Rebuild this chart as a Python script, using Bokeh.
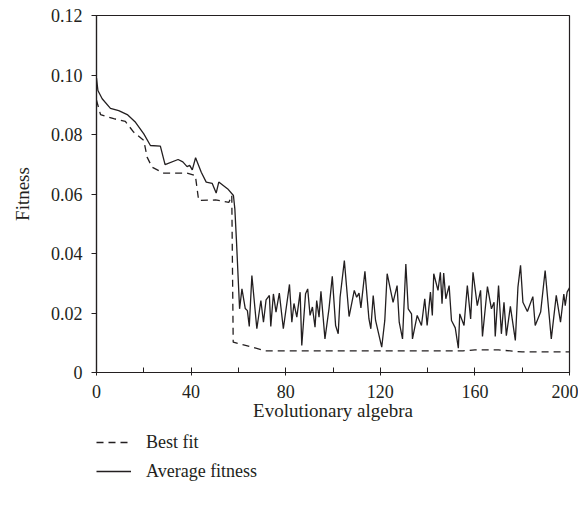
from bokeh.plotting import figure
from bokeh.layouts import column
from bokeh.models import FixedTicker, Range1d, Legend, LegendItem
from bokeh.embed import file_html
from bokeh.resources import INLINE

# Average fitness (solid line)
avg_x = [0, 0.6, 2.4, 5.9, 9.4, 13, 16.5, 20, 22.8, 27, 29, 34.5, 36.5, 38.3, 39.4, 40.5,
         41.9, 44.3, 46.4, 48.9, 50.6, 51.7, 55.5, 57.9, 58.5, 59.2, 60, 60.5,
         61.5, 62.9, 63.8, 64.6, 65.7, 67.8, 69.5, 70.6, 71.7, 73.1, 73.7, 74.8, 75.9,
         77.3, 79, 81.6, 82.6, 83.5, 84.7, 86.1, 86.8, 88.4, 89.3, 90.3, 91.3, 92.4,
         93.1, 94.1, 94.9, 96.6, 98.3, 99.7, 101.1, 102.2, 103, 104.8, 106.8, 109, 110,
         111, 111.8, 113.5, 115.2, 116, 117, 118, 120.6, 121.9, 122.9, 125.4, 127.1,
         128, 129.4, 130.8, 131.8, 133.2, 133.6, 135.6, 137.4, 138.8, 139.8, 141.2, 142,
         142.6, 144.4, 145.4, 146.1, 146.8, 147.7, 149.1, 150.1, 151.7, 153, 153.6,
         155.4, 156.8, 158.2, 159.2, 161, 162.4, 163.2, 165.3, 167, 168.1, 168.6, 170,
         171.2, 172.3, 173.3, 175, 177.1, 178.2, 179.3, 180.3, 182.2, 184.5, 185.5,
         187.8, 189.7, 192.3, 194.4, 196.2, 197.6, 198.2, 199, 200]
avg_y = [0.099, 0.0948, 0.092, 0.0888, 0.088, 0.0867, 0.0841, 0.0802, 0.0763, 0.0761,
         0.0699, 0.0716, 0.0708, 0.0692, 0.0696, 0.0681, 0.0722, 0.0673, 0.064, 0.0636,
         0.0603, 0.064, 0.0617, 0.0595, 0.055, 0.044, 0.030, 0.0214,
         0.0281, 0.0215, 0.0208, 0.0155, 0.0326, 0.0147, 0.0242, 0.0169, 0.0244, 0.0259,
         0.0155, 0.0264, 0.0203, 0.0267, 0.0147, 0.0296, 0.0169, 0.0232, 0.0186, 0.027,
         0.0091, 0.0265, 0.0281, 0.0192, 0.022, 0.0152, 0.0242, 0.0186, 0.0273, 0.0113,
         0.0214, 0.0323, 0.0158, 0.013, 0.0253, 0.0376, 0.0188, 0.0276, 0.0253, 0.0267,
         0.0217, 0.034, 0.018, 0.0147, 0.0259, 0.0175, 0.0085, 0.0175, 0.0332, 0.0236,
         0.0292, 0.0169, 0.0113, 0.0365, 0.0214, 0.0197, 0.0113, 0.0192, 0.0158, 0.0248,
         0.0158, 0.027, 0.0192, 0.0332, 0.0276, 0.0337, 0.0231, 0.0334, 0.0248, 0.0292,
         0.0175, 0.015, 0.0082, 0.0197, 0.0158, 0.0292, 0.018, 0.0337, 0.0225, 0.0276,
         0.0121, 0.0289, 0.0214, 0.0236, 0.0121, 0.0292, 0.013, 0.0236, 0.0124, 0.0222,
         0.0108, 0.0287, 0.036, 0.0236, 0.0205, 0.0255, 0.0158, 0.0203, 0.0343, 0.0113,
         0.0259, 0.0169, 0.0264, 0.0225, 0.027, 0.0285]

# Best fit (dashed line)
best_x = [0, 1.7, 7.3, 12.2, 15.7, 20, 21.4, 23.5, 28.5, 38.3, 41.8, 43.2, 50.3, 56, 57.2,
          57.8, 63, 71.5, 155, 160, 170, 180, 200]
best_y = [0.0915, 0.0867, 0.0853, 0.0844, 0.0808, 0.078, 0.0724, 0.069, 0.067, 0.067,
          0.0662, 0.0578, 0.058, 0.0572, 0.0595, 0.0102, 0.0091, 0.0073, 0.0073, 0.0076,
          0.0076, 0.0069, 0.0069]

series_names = ["Best fit", "Average fitness"]
x_ticks = [0, 40, 80, 120, 160, 200]
x_minor = [20, 60, 100, 140, 180]
y_ticks = [0, 0.02, 0.04, 0.06, 0.08, 0.10, 0.12]
y_labels = ["0", "0.02", "0.04", "0.06", "0.08", "0.10", "0.12"]

FONT = "Liberation Serif"
INK = "#231f20"
DASH = "7 5"
LW = 1.3

p = figure(frame_width=473, frame_height=357, output_backend="svg", toolbar_location=None,
           x_range=Range1d(0, 200), y_range=Range1d(0, 0.12),
           min_border_left=96, min_border_right=9, min_border_top=15, min_border_bottom=53)
p.xgrid.visible = False
p.ygrid.visible = False
p.outline_line_color = INK
p.outline_line_width = 1.2

p.line(best_x, best_y, line_color=INK, line_width=LW, line_dash=DASH)
p.line(avg_x, avg_y, line_color=INK, line_width=LW)

p.xaxis.ticker = FixedTicker(ticks=x_ticks, minor_ticks=x_minor)
p.yaxis.ticker = FixedTicker(ticks=y_ticks)
p.yaxis.major_label_overrides = {t: l for t, l in zip(y_ticks, y_labels)}

for ax in (p.xaxis[0], p.yaxis[0]):
    ax.axis_line_color = INK
    ax.axis_line_width = 1.2
    ax.major_tick_line_color = INK
    ax.minor_tick_line_color = INK
    ax.major_label_text_font = FONT
    ax.major_label_text_font_size = "18px"
    ax.major_label_text_color = INK
    ax.axis_label_text_font = FONT
    ax.axis_label_text_font_size = "19px"
    ax.axis_label_text_font_style = "normal"
    ax.axis_label_text_color = INK

p.xaxis.major_tick_in = 5
p.xaxis.major_tick_out = 3
p.xaxis.minor_tick_in = 5
p.xaxis.minor_tick_out = 0
p.xaxis.major_label_standoff = 9
p.xaxis.axis_label = "Evolutionary algebra"
p.xaxis.axis_label_standoff = -1

p.yaxis.major_tick_in = 0
p.yaxis.major_tick_out = 5
p.yaxis.minor_tick_in = 0
p.yaxis.minor_tick_out = 0
p.yaxis.major_label_standoff = 9
p.yaxis.axis_label = "Fitness"
p.yaxis.axis_label_standoff = 15

# Legend panel below the chart (series drawn out of its view; only the legend shows)
lg = figure(width=578, height=75, output_backend="svg", toolbar_location=None,
            min_border_left=96, min_border_right=0, min_border_top=6, min_border_bottom=0,
            x_range=Range1d(0, 200), y_range=Range1d(10, 11))
lg.axis.visible = False
lg.grid.visible = False
lg.outline_line_color = None
lb = lg.line(best_x, best_y, line_color=INK, line_width=LW, line_dash=DASH)
la = lg.line(avg_x, avg_y, line_color=INK, line_width=LW)
legend = Legend(items=[LegendItem(label=series_names[0], renderers=[lb]),
                       LegendItem(label=series_names[1], renderers=[la])],
                location="top_left", orientation="vertical",
                border_line_color=None, background_fill_alpha=0,
                padding=0, margin=0, spacing=7,
                glyph_width=35, glyph_height=22, label_height=22,
                label_standoff=15, label_text_font=FONT, label_text_font_size="18px",
                label_text_color=INK)
lg.add_layout(legend, "center")

layout = column(p, lg, spacing=0)
open("out.html", "w").write(file_html(layout, INLINE))
